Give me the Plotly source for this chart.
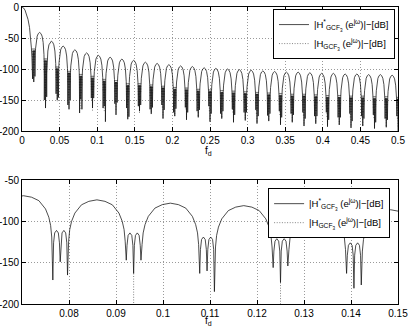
import plotly.graph_objects as go
from plotly.subplots import make_subplots

# ---- data ----
# nulls of the comb response, f_d = k/64
null_freq = [0.015625, 0.03125, 0.046875, 0.0625, 0.078125, 0.09375, 0.109375, 0.125,
             0.140625, 0.15625, 0.171875, 0.1875, 0.203125, 0.21875, 0.234375, 0.25,
             0.265625, 0.28125, 0.296875, 0.3125, 0.328125, 0.34375, 0.359375, 0.375,
             0.390625, 0.40625, 0.421875, 0.4375, 0.453125, 0.46875, 0.484375, 0.5]
lobe_w = 0.015625

# main lobe (0 .. first null)
main_lobe_f = [0.0, 0.002, 0.004, 0.006, 0.008, 0.010, 0.0115, 0.0125, 0.0132, 0.0137]
main_lobe_db = [0, -1.5, -5, -11, -20, -33, -50, -66, -82, -100]

# side lobe peaks, lobes 1..31
lobe_peak_db = [-41, -55, -63, -69, -74, -78, -81, -84, -86, -89, -91, -93, -95, -96, -98, -99,
                -100, -101, -102, -103, -104, -105, -105, -106, -107, -107, -108, -108, -109,
                -109, -110]

# triple-null clusters around every k/64
bump_db = [-70, -86, -99, -106, -111, -114, -119, -121, -126, -126, -128, -130, -132, -133, -135,
           -136, -137, -138, -139, -140, -141, -142, -143, -143, -144, -145, -145, -146, -146,
           -147, -147, -148]
spike_l_db = [-116, -150, -140, -158, -171, -147, -163, -156, -163, -160, -165, -158, -170, -162,
              -168, -160, -172, -165, -170, -166, -175, -168, -172, -170, -176, -170, -178, -172,
              -176, -174, -180, -176]
spike_m_db = [-121, -163, -150, -165, -149, -163, -160, -174, -181, -168, -172, -180, -176, -182,
              -178, -185, -180, -186, -183, -188, -184, -190, -186, -192, -188, -193, -190, -195,
              -192, -196, -194, -200]
spike_r_db = [-112, -145, -146, -150, -165, -147, -185, -154, -177, -158, -162, -166, -164, -170,
              -166, -172, -168, -174, -170, -176, -172, -178, -174, -180, -176, -182, -178, -184,
              -180, -186, -182, -186]

# arch shape of a side lobe (position inside lobe, dB below peak)
arch_u = [0.115, 0.13, 0.155, 0.2, 0.29, 0.39, 0.5, 0.61, 0.71, 0.8, 0.845, 0.87, 0.885]
arch_rel_db = [-50, -36, -26, -16, -6, -1.8, 0, -1.8, -6, -16, -26, -36, -50]
cluster_u = [-0.1, -0.09, -0.075, -0.05, -0.025, -0.01, 0.0, 0.01, 0.025, 0.05, 0.075, 0.09, 0.1]
bump_rel_db = [-15, -3, 0, -3, -15]

# dotted |H_GCF3| : hatched spikes at each null (top panel)
dot_floor_db = [-118, -150, -152, -158, -165, -168, -170, -168, -175, -172, -175, -178, -176,
                -180, -178, -182, -180, -184, -182, -186, -184, -188, -186, -190, -188, -192,
                -190, -193, -192, -195, -193, -195]
hatch_u = [-0.11, -0.055, 0.0, 0.055, 0.11]
hatch_depth = [0.35, 0.7, 1.0, 0.55, 0.3]

# dotted curve in zoomed panel: deeper centre nulls
deep_null_f = [0.09375, 0.125]
deep_null_db = [-163, -174]

top_xticks = [0, 0.05, 0.1, 0.15, 0.2, 0.25, 0.3, 0.35, 0.4, 0.45, 0.5]
top_xlabels = ["0", "0.05", "0.1", "0.15", "0.2", "0.25", "0.3", "0.35", "0.4", "0.45", "0.5"]
bot_xticks = [0.08, 0.09, 0.1, 0.11, 0.12, 0.13, 0.14, 0.15]
bot_xlabels = ["0.08", "0.09", "0.1", "0.11", "0.12", "0.13", "0.14", "0.15"]
top_yticks = [0, -50, -100, -150, -200]
bot_yticks = [-50, -100, -150, -200]

name_sharp = "|H<sup>*</sup><sub>GCF<sub>3</sub></sub> (e<sup>jω</sup>)|−[dB]"
name_plain = "|H<sub>GCF<sub>3</sub></sub> (e<sup>jω</sup>)|−[dB]"

# ---- build the curves ----
f_all, db_all = list(main_lobe_f), list(main_lobe_db)
for k, f0 in enumerate(null_freq):
    b = bump_db[k]
    bumps = [b + r for r in bump_rel_db]
    vals = [spike_l_db[k]] + bumps + [spike_m_db[k]] + bumps + [spike_r_db[k]]
    for u, v in zip(cluster_u, vals):
        f = f0 + u * lobe_w
        if f <= 0.5:
            f_all.append(f)
            db_all.append(v)
    if k < len(lobe_peak_db):
        for u, r in zip(arch_u, arch_rel_db):
            f_all.append(f0 + u * lobe_w)
            db_all.append(lobe_peak_db[k] + r)

hx, hy = [], []
for k, f0 in enumerate(null_freq):
    b = bump_db[k]
    for u, d in zip(hatch_u, hatch_depth):
        f = f0 + u * lobe_w
        if f <= 0.5:
            hx += [f, f, None]
            hy += [b + 3, b + d * (dot_floor_db[k] - b), None]

dx, dy = [], []
for f, v in zip(deep_null_f, deep_null_db):
    dx += [f, f, None]
    dy += [v, -210, None]

fig = make_subplots(rows=2, cols=1, vertical_spacing=0.165)

dot_line = dict(color='#666666', width=0.8, dash='1px,1.6px')
solid_line = dict(color='#111111', width=0.75)

# top panel
fig.add_trace(go.Scatter(x=hx, y=hy, mode='lines', name=name_plain, legend='legend', legendrank=2,
                         line=dot_line), row=1, col=1)
fig.add_trace(go.Scatter(x=f_all, y=db_all, mode='lines', name=name_sharp, legend='legend', legendrank=1,
                         line=solid_line), row=1, col=1)

# zoomed panel
fig.add_trace(go.Scatter(x=dx, y=dy, mode='lines', name=name_plain, legend='legend2', legendrank=2,
                         line=dot_line), row=2, col=1)
fig.add_trace(go.Scatter(x=f_all, y=db_all, mode='lines', name=name_sharp, legend='legend2', legendrank=1,
                         line=solid_line), row=2, col=1)

axis_style = dict(showline=True, linecolor='black', linewidth=1, mirror='ticks',
                  ticks='inside', ticklen=4, tickcolor='black', automargin=False,
                  showgrid=True, gridcolor='#9a9a9a', griddash='1px,2px', gridwidth=1,
                  zeroline=False, tickfont=dict(size=10), ticklabeloverflow='allow')

fig.update_xaxes(axis_style)
fig.update_yaxes(axis_style)
fig.update_xaxes(range=[0, 0.5], tickvals=top_xticks, ticktext=top_xlabels, row=1, col=1)
fig.update_xaxes(range=[0.07, 0.15], tickvals=bot_xticks, ticktext=bot_xlabels, row=2, col=1)
fig.update_yaxes(range=[-200, 0], tickvals=top_yticks, ticktext=[str(v) for v in top_yticks], row=1, col=1)
fig.update_yaxes(range=[-200, -50], tickvals=bot_yticks, ticktext=[str(v) for v in bot_yticks], row=2, col=1)

# axis labels f_d under each panel
for y in [0.514, -0.056]:
    fig.add_annotation(text='f<sub>d</sub>', xref='paper', yref='paper', x=0.497, y=y,
                       showarrow=False, font=dict(size=10), xanchor='center', yanchor='middle')

legend_style = dict(bgcolor='white', bordercolor='black', borderwidth=1, xanchor='right', yanchor='top',
                    font=dict(size=9.5), tracegroupgap=0, itemwidth=30)
fig.update_layout(
    width=409, height=332,
    margin=dict(l=22, r=11, t=7, b=28, autoexpand=False),
    font=dict(family='Liberation Sans, Arial, sans-serif', size=10, color='black'),
    plot_bgcolor='white', paper_bgcolor='white',
    legend=dict(legend_style, x=0.992, y=0.993),
    legend2=dict(legend_style, x=0.979, y=0.39),
)
fig.layout.yaxis.domain = [0.5825, 1.0]
fig.layout.yaxis2.domain = [0.0, 0.4175]

fig.write_html("out.html", config={'displayModeBar': False},
               post_script="document.body.style.margin='0';")
